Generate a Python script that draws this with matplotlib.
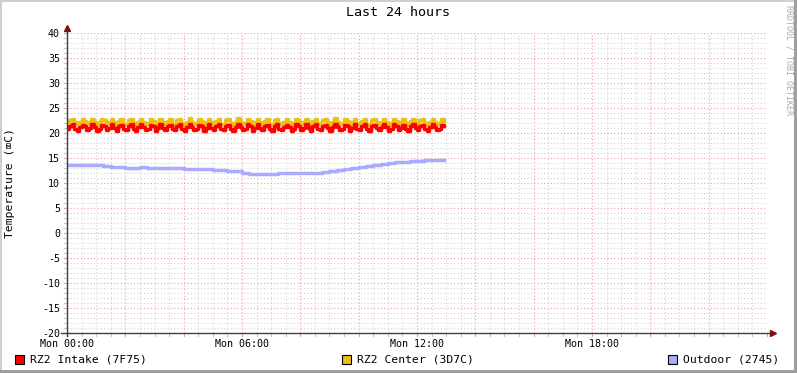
import numpy as np
import matplotlib
matplotlib.use("Agg")
import matplotlib.pyplot as plt
from matplotlib.patches import Rectangle
from matplotlib.ticker import MultipleLocator, FixedLocator

plt.rcParams["font.family"] = ["DejaVu Sans Mono", "DejaVu Sans"]
plt.rcParams["axes.unicode_minus"] = False

W, H = 797, 373

# 5-minute samples, 00:00 .. 12:55
intake = [
    20.8, 21.5, 21.8, 20.9, 20.5, 21.2, 21.6, 21.4, 20.6, 21.1, 21.8, 21.2,
    20.5, 20.9, 21.6, 21.5, 20.6, 21.1, 21.8, 21.1, 20.5, 21.4, 21.6, 20.8,
    20.6, 21.5, 21.8, 20.9, 20.5, 21.2, 21.8, 21.2, 20.6, 20.9, 21.6, 21.4,
    20.5, 21.1, 21.8, 21.1, 20.6, 21.4, 21.6, 20.8, 20.6, 21.5, 21.8, 20.9,
    20.5, 21.2, 21.9, 21.2, 20.6, 20.9, 21.6, 21.4, 20.5, 21.1, 21.8, 21.1,
    20.6, 21.4, 21.8, 20.8, 20.6, 21.5, 21.6, 20.9, 20.5, 21.2, 21.9, 21.2,
    20.6, 20.9, 21.8, 21.4, 20.5, 21.1, 21.8, 21.1, 20.6, 21.4, 21.6, 20.8,
    20.5, 21.5, 21.8, 20.9, 20.6, 21.2, 21.6, 21.2, 20.5, 20.9, 21.8, 21.4,
    20.6, 21.1, 21.8, 21.1, 20.5, 21.4, 21.8, 20.9, 20.6, 21.5, 21.6, 21.1,
    20.5, 21.2, 21.9, 21.2, 20.6, 20.9, 21.6, 21.4, 20.5, 21.1, 21.8, 20.9,
    20.6, 21.4, 21.8, 20.8, 20.5, 21.5, 21.6, 21.1, 20.6, 21.2, 21.8, 21.2,
    20.5, 20.9, 21.8, 21.4, 20.6, 21.1, 21.6, 20.9, 20.5, 21.4, 21.8, 21.1,
    20.6, 21.5, 21.6, 20.9, 20.5, 21.2, 21.8, 21.2, 20.6, 20.9, 21.6, 21.4,
]
center = [
    21.9, 22.6, 22.9, 22.2, 21.8, 22.3, 22.9, 22.5, 21.8, 22.2, 22.8, 22.3,
    21.7, 22.2, 22.9, 22.6, 21.8, 22.3, 22.8, 22.2, 21.7, 22.5, 22.9, 21.9,
    21.8, 22.6, 22.8, 22.0, 21.7, 22.3, 22.9, 22.3, 21.8, 22.0, 22.8, 22.5,
    21.7, 22.2, 22.9, 22.2, 21.8, 22.5, 22.8, 21.9, 21.8, 22.6, 22.9, 22.0,
    21.7, 22.3, 23.0, 22.3, 21.8, 22.0, 22.8, 22.5, 21.7, 22.2, 22.9, 22.2,
    21.8, 22.5, 22.9, 21.9, 21.8, 22.6, 22.8, 22.0, 21.7, 22.3, 23.0, 22.3,
    21.8, 22.0, 22.9, 22.5, 21.7, 22.2, 22.9, 22.2, 21.8, 22.5, 22.8, 21.9,
    21.7, 22.6, 22.9, 22.0, 21.8, 22.3, 22.8, 22.3, 21.7, 22.0, 22.9, 22.5,
    21.8, 22.2, 22.9, 22.2, 21.7, 22.5, 22.9, 22.0, 21.8, 22.6, 22.8, 22.2,
    21.7, 22.3, 23.0, 22.3, 21.8, 22.0, 22.8, 22.5, 21.7, 22.2, 22.9, 22.0,
    21.8, 22.5, 22.9, 21.9, 21.7, 22.6, 22.8, 22.2, 21.8, 22.3, 22.9, 22.3,
    21.7, 22.0, 22.9, 22.5, 21.8, 22.2, 22.8, 22.0, 21.7, 22.5, 22.9, 22.2,
    21.8, 22.6, 22.8, 22.0, 21.7, 22.3, 22.9, 22.3, 21.8, 22.0, 22.8, 22.5,
]
# 15-minute samples, 00:00 .. 12:45, last value held to 12:55
outdoor = [
    13.7, 13.7, 13.6, 13.6, 13.6, 13.4, 13.3, 13.2, 13.1, 13.1, 13.2, 13.1,
    13.1, 13.0, 13.0, 13.0, 12.9, 12.9, 12.9, 12.8, 12.7, 12.6, 12.5, 12.4,
    12.0, 11.9, 11.9, 11.8, 11.8, 12.0, 12.0, 12.0, 12.0, 12.0, 12.0, 12.2,
    12.4, 12.6, 12.8, 13.0, 13.2, 13.5, 13.7, 13.9, 14.1, 14.2, 14.3, 14.5,
    14.4, 14.6, 14.6, 14.7, 14.7,
]
xtick_hours = [0, 6, 12, 18]
xtick_labels = ["Mon 00:00", "Mon 06:00", "Mon 12:00", "Mon 18:00"]
series_names = ["RZ2 Intake (7F75)", "RZ2 Center (3D7C)", "Outdoor (2745)"]
RED, GOLD, BLUE = "#FF0000", "#EAC117", "#AAAAFF"

t5 = np.arange(len(intake)) * 5 / 60
t15 = np.arange(len(outdoor)) * 15 / 60
t15[-1] = 12 + 55 / 60

fig = plt.figure(figsize=(W / 100, H / 100), dpi=100)
fig.patch.set_facecolor("white")

def px(x, y):
    return x / W, 1 - y / H

L, R, T, B = 67, 767, 33, 333
ax = fig.add_axes([L / W, 1 - B / H, (R - L) / W, (B - T) / H])
ax.set_xlim(0, 24)
ax.set_ylim(-20, 40)

ax.xaxis.set_major_locator(FixedLocator(xtick_hours))
ax.set_xticklabels(xtick_labels)
ax.yaxis.set_major_locator(MultipleLocator(5))

for s in ax.spines.values():
    s.set_visible(False)

# grid
dot = (0, (1, 2))
for v in np.arange(0, 24.01, 0.5):
    major = abs(v / 2 - round(v / 2)) < 1e-6
    ax.axvline(v, color="#EBA0A0" if major else "#D4D4D4", lw=0.8,
               ls=dot, zorder=0)
    ax.plot([v, v], [-20.5, -20], color="#EBA0A0" if major else "#C8C8C8",
            lw=0.8, clip_on=False, zorder=1)
for v in range(-20, 41):
    major = v % 5 == 0
    ax.axhline(v, color="#EBA0A0" if major else "#D4D4D4", lw=0.8,
               ls=dot, zorder=0)
    ax.plot([-0.1, 0], [v, v], color="#EBA0A0" if major else "#C8C8C8",
            lw=0.8, clip_on=False, zorder=1)

ax.tick_params(axis="both", which="both", length=0, labelsize=7.2,
               colors="black")
ax.tick_params(axis="x", pad=4.5)
ax.tick_params(axis="y", pad=5)

ax.plot(t15, outdoor, color=BLUE, lw=2.5, drawstyle="steps-post", zorder=3)
ax.plot(t5, center, color=GOLD, lw=2.5, drawstyle="steps-post", zorder=3)
ax.plot(t5, intake, color=RED, lw=2.5, drawstyle="steps-post", zorder=3)

# axes with arrows
ax.plot([0, 0], [-20.6, 40.9], color="#404040", lw=1, clip_on=False, zorder=4)
ax.plot([-0.2, 24.15], [-20, -20], color="#404040", lw=1, clip_on=False, zorder=4)
ax.plot([0], [41.0], marker="^", color="#7F1010", ms=4, clip_on=False, zorder=5)
ax.plot([24.2], [-20], marker=">", color="#7F1010", ms=4, clip_on=False, zorder=5)

# text
fig.text(*px(398, 13), "Last 24 hours", ha="center", va="center", fontsize=9.6)
fig.text(*px(10, 183), "Temperature (\u2327C)", ha="center", va="center",
         rotation=90, fontsize=8.2)
fig.text(*px(789, 60), "RRDTOOL / TOBI OETIKER", ha="center", va="center",
         rotation=270, fontsize=6, color="#AAAAAA")

for (bx, tx), name, col in zip([(15, 30), (342, 357), (668, 683)],
                               series_names, [RED, GOLD, BLUE]):
    fig.patches.append(Rectangle(px(bx, 364), 9 / W, 9 / H, transform=fig.transFigure,
                                 facecolor=col, edgecolor="black", lw=0.8))
    fig.text(*px(tx, 359), name, ha="left", va="center", fontsize=8.2)

# shaded frame
fig.patches.append(Rectangle((0, 1 - 2 / H), 1, 2 / H, transform=fig.transFigure,
                             facecolor="#CFCFCF", edgecolor="none"))
fig.patches.append(Rectangle((0, 0), 2 / W, 1, transform=fig.transFigure,
                             facecolor="#CFCFCF", edgecolor="none"))
fig.patches.append(Rectangle((0, 0), 1, 3 / H, transform=fig.transFigure,
                             facecolor="#9F9F9F", edgecolor="none"))
fig.patches.append(Rectangle((1 - 3 / W, 0), 3 / W, 1, transform=fig.transFigure,
                             facecolor="#9F9F9F", edgecolor="none"))

fig.savefig("out.png", dpi=100, facecolor="white")
